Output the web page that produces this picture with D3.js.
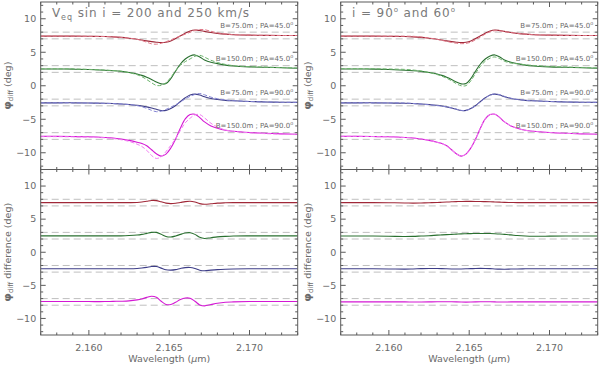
<!DOCTYPE html>
<html>
<head>
<meta charset="UTF-8" />
<title>phi diff models</title>
<script src="https://d3js.org/d3.v7.min.js"></script>
<style>
	body { margin: 0; background: #fff; }
	text { font-family: 'DejaVu Sans', sans-serif; fill: #6a6a6a; }
</style>
</head>
<body>
<div id="main"></div>
<script type="text/javascript">
	// wavelength grid (micron)
	var wavelength = [2.157, 2.158, 2.159, 2.160, 2.161, 2.1615, 2.162, 2.1625, 2.163, 2.1633, 2.1636, 2.1639, 2.1642, 2.1645, 2.1648,
		2.1651, 2.1654, 2.1657, 2.166, 2.1663, 2.1666, 2.1669, 2.1672, 2.1676, 2.168, 2.1685, 2.169, 2.170, 2.171, 2.172, 2.173];

	// reference model (solid lines), offset per baseline
	var phiB75PA45 = [7.40, 7.40, 7.40, 7.38, 7.35, 7.30, 7.22, 7.10, 6.95, 6.82, 6.70, 6.58, 6.50, 6.45, 6.50,
		6.68, 7.05, 7.45, 7.85, 8.18, 8.32, 8.25, 8.12, 7.95, 7.82, 7.70, 7.62, 7.55, 7.52, 7.50, 7.50];
	var phiB150PA45 = [2.50, 2.50, 2.48, 2.42, 2.32, 2.25, 2.15, 1.98, 1.75, 1.55, 1.28, 0.95, 0.55, 0.28, 0.32,
		1.05, 2.20, 3.25, 4.00, 4.45, 4.60, 4.30, 3.85, 3.50, 3.30, 3.08, 2.95, 2.82, 2.75, 2.68, 2.62];
	var phiB75PA90 = [-2.55, -2.55, -2.55, -2.58, -2.62, -2.66, -2.72, -2.80, -2.92, -3.02, -3.15, -3.32, -3.52, -3.70, -3.68,
		-3.40, -2.95, -2.35, -1.80, -1.38, -1.25, -1.38, -1.65, -1.90, -2.05, -2.18, -2.25, -2.35, -2.42, -2.46, -2.48];
	var phiB150PA90 = [-7.55, -7.55, -7.58, -7.62, -7.72, -7.80, -7.95, -8.15, -8.42, -8.62, -8.95, -9.55, -10.15, -10.50, -10.20,
		-9.30, -7.95, -6.30, -4.95, -4.30, -4.25, -4.75, -5.40, -6.00, -6.35, -6.65, -6.80, -6.98, -7.10, -7.18, -7.25];

	// differences 200 vs 250 km/s (lower left), plotted around the offsets
	var dvB75PA45 = [7.5, 7.5, 7.5, 7.5, 7.5, 7.5, 7.5, 7.5, 7.52, 7.58, 7.70, 7.82, 7.80, 7.62, 7.42,
		7.35, 7.40, 7.52, 7.65, 7.70, 7.58, 7.35, 7.25, 7.32, 7.42, 7.47, 7.5, 7.5, 7.5, 7.5, 7.5];
	var dvB150PA45 = [2.48, 2.48, 2.48, 2.48, 2.48, 2.48, 2.48, 2.52, 2.60, 2.70, 2.85, 3.00, 3.00, 2.72, 2.38,
		2.30, 2.45, 2.70, 2.90, 2.95, 2.70, 2.25, 2.08, 2.20, 2.32, 2.40, 2.45, 2.47, 2.47, 2.47, 2.47];
	var dvB75PA90 = [-2.5, -2.5, -2.5, -2.5, -2.5, -2.5, -2.5, -2.5, -2.45, -2.38, -2.28, -2.15, -2.15, -2.40, -2.65,
		-2.70, -2.62, -2.45, -2.32, -2.30, -2.45, -2.72, -2.80, -2.70, -2.62, -2.56, -2.52, -2.5, -2.5, -2.5, -2.5];
	var dvB150PA90 = [-7.45, -7.45, -7.45, -7.45, -7.45, -7.42, -7.40, -7.35, -7.20, -7.05, -6.82, -6.65, -6.80, -7.40, -7.88,
		-7.90, -7.55, -7.15, -6.92, -6.95, -7.40, -7.95, -8.10, -7.90, -7.70, -7.55, -7.50, -7.45, -7.45, -7.45, -7.45];

	// differences i = 90 vs 60 deg (lower right)
	var diB75PA45 = [7.5, 7.5, 7.5, 7.48, 7.45, 7.42, 7.44, 7.48, 7.52, 7.55, 7.58, 7.62, 7.65, 7.67, 7.68,
		7.68, 7.67, 7.66, 7.64, 7.62, 7.60, 7.57, 7.54, 7.52, 7.5, 7.5, 7.5, 7.5, 7.5, 7.5, 7.5];
	var diB150PA45 = [2.45, 2.45, 2.45, 2.42, 2.38, 2.40, 2.45, 2.50, 2.58, 2.62, 2.66, 2.70, 2.74, 2.78, 2.80,
		2.82, 2.83, 2.84, 2.84, 2.83, 2.80, 2.76, 2.70, 2.62, 2.52, 2.45, 2.42, 2.43, 2.45, 2.45, 2.45];
	var diB75PA90 = [-2.5, -2.5, -2.5, -2.52, -2.55, -2.52, -2.48, -2.45, -2.45, -2.47, -2.50, -2.52, -2.53, -2.52, -2.50,
		-2.48, -2.45, -2.44, -2.45, -2.48, -2.52, -2.55, -2.56, -2.54, -2.52, -2.5, -2.5, -2.5, -2.5, -2.5, -2.5];
	var diB150PA90 = [-7.5, -7.5, -7.5, -7.5, -7.5, -7.52, -7.52, -7.5, -7.48, -7.47, -7.47, -7.48, -7.5, -7.52, -7.53,
		-7.52, -7.5, -7.48, -7.47, -7.48, -7.5, -7.52, -7.52, -7.5, -7.5, -7.5, -7.5, -7.5, -7.5, -7.5, -7.5];

	var seriesOffset = [7.5, 2.5, -2.5, -7.5];
	var seriesLabel = ['B=75.0m ; PA=45.0', 'B=150.0m ; PA=45.0', 'B=75.0m ; PA=90.0', 'B=150.0m ; PA=90.0'];
	var guideLevels = [8, 7, 3, 2, -2, -3, -7, -8];
	var yTickLabels = [10, 5, 0, -5, -10];
	var xTickLabels = [2.160, 2.165, 2.170];

	var solidColor = ['#a02838', '#2a7030', '#3e3e88', '#d418d4'];
	var dashColor = ['#e07888', '#6cb46c', '#8484d4', '#f27cf2'];

	var width = 600, height = 365;
	var svg = d3.select('#main').append('svg').attr('width', width).attr('height', height);

	var cols = [{ x0: 40.7, x1: 297.7 }, { x0: 340.7, x1: 597.7 }];
	var rows = [{ y0: 2, y1: 169.5 }, { y0: 169.5, y1: 335 }];

	var refSeries = [phiB75PA45, phiB150PA45, phiB75PA90, phiB150PA90];
	var diffV = [dvB75PA45, dvB150PA45, dvB75PA90, dvB150PA90];
	var diffI = [diB75PA45, diB150PA45, diB75PA90, diB150PA90];

	// second model = reference minus the plotted difference
	function altSeries(diffs) {
		return refSeries.map((ref, k) => ref.map((v, i) => v - (diffs[k][i] - seriesOffset[k])));
	}

	function drawPanel(col, row, lines, isLower) {
		var x = d3.scaleLinear().domain([2.157, 2.173]).range([col.x0, col.x1]);
		var y = d3.scaleLinear().domain([-12.5, 12.5]).range([row.y1, row.y0]);
		var g = svg.append('g');

		// guide lines
		g.selectAll('.guide').data(guideLevels).enter().append('line')
			.attr('x1', col.x0).attr('x2', col.x1)
			.attr('y1', d => y(d)).attr('y2', d => y(d))
			.attr('stroke', '#b8b8b8').attr('stroke-width', 0.9).attr('stroke-dasharray', '7,4');

		var line = d3.line().x((d, i) => x(wavelength[i])).y(d => y(d)).curve(d3.curveCatmullRom.alpha(0.5));
		lines.forEach(function (l) {
			g.append('path').attr('d', line(l.values)).attr('fill', 'none')
				.attr('stroke', l.color).attr('stroke-width', l.w || 1)
				.attr('stroke-dasharray', l.dash ? '4,2' : null);
		});

		// frame
		g.append('rect').attr('x', col.x0).attr('y', row.y0).attr('width', col.x1 - col.x0).attr('height', row.y1 - row.y0)
			.attr('fill', 'none').attr('stroke', '#5a5a5a').attr('stroke-width', 1);

		// x ticks (inward, top and bottom)
		var xt = d3.range(2157, 2174).map(d => d / 1000);
		xt.forEach(function (t) {
			var major = Math.round(t * 1000) % 5 === 0;
			var len = major ? 5 : 2.5;
			g.append('line').attr('x1', x(t)).attr('x2', x(t)).attr('y1', row.y1).attr('y2', row.y1 - len).attr('stroke', '#5a5a5a');
			g.append('line').attr('x1', x(t)).attr('x2', x(t)).attr('y1', row.y0).attr('y2', row.y0 + len).attr('stroke', '#5a5a5a');
		});
		// y ticks (inward, left and right)
		d3.range(-12, 13).forEach(function (t) {
			var len = t % 5 === 0 ? 5 : 2.5;
			g.append('line').attr('x1', col.x0).attr('x2', col.x0 + len).attr('y1', y(t)).attr('y2', y(t)).attr('stroke', '#5a5a5a');
			g.append('line').attr('x1', col.x1).attr('x2', col.x1 - len).attr('y1', y(t)).attr('y2', y(t)).attr('stroke', '#5a5a5a');
		});
		g.selectAll('.ylab').data(yTickLabels).enter().append('text')
			.attr('x', col.x0 - 4.5).attr('y', d => y(d) + 3.3)
			.attr('text-anchor', 'end').attr('font-size', '9.5px')
			.text(d => d < 0 ? '\u2212' + Math.abs(d) : d);

		if (isLower) {
			g.selectAll('.xlab').data(xTickLabels).enter().append('text')
				.attr('x', d => x(d)).attr('y', 350.5).attr('text-anchor', 'middle').attr('font-size', '9.5px')
				.text(d => d3.format('.3f')(d));
			var xt2 = g.append('text').attr('x', (col.x0 + col.x1) / 2).attr('y', 361.5)
				.attr('text-anchor', 'middle').attr('font-size', '9.5px');
			xt2.append('tspan').text('Wavelength (');
			xt2.append('tspan').attr('font-style', 'italic').text('\u03bc');
			xt2.append('tspan').text('m)');
		} else {
			// baseline labels
			seriesLabel.forEach(function (s, k) {
				var t = g.append('text').attr('x', col.x1 - 4.5).attr('y', y(seriesOffset[k]) - 8)
					.attr('text-anchor', 'end').attr('font-size', '7px');
				t.append('tspan').text(s);
				t.append('tspan').attr('font-size', '5px').attr('dy', -3).text('o');
			});
		}

		// y title
		var cy = (row.y0 + row.y1) / 2;
		var yt = g.append('text').attr('transform', 'translate(' + (col.x0 - 30) + ',' + cy + ') rotate(-90)')
			.attr('text-anchor', 'middle').attr('font-size', '9.5px');
		yt.append('tspan').attr('font-weight', 'bold').attr('font-size', '11px').text('\u03c6');
		yt.append('tspan').attr('font-size', '7px').attr('dy', 2.5).text('diff');
		yt.append('tspan').attr('dy', -2.5).text(isLower ? ' difference (deg)' : ' (deg)');
	}

	var altV = altSeries(diffV);
	var altI = altSeries(diffI);

	function upperLines(alt) {
		var out = [];
		refSeries.forEach(function (ref, k) {
			out.push({ values: ref, color: solidColor[k], w: 1.1 });
			out.push({ values: alt[k], color: dashColor[k], dash: true, w: 1 });
		});
		return out;
	}
	function lowerLines(diffs) {
		return diffs.map((d, k) => ({ values: d, color: solidColor[k], w: 1.1 }));
	}

	drawPanel(cols[0], rows[0], upperLines(altV), false);
	drawPanel(cols[0], rows[1], lowerLines(diffV), true);
	drawPanel(cols[1], rows[0], upperLines(altI), false);
	drawPanel(cols[1], rows[1], lowerLines(diffI), true);

	// panel titles
	var t1 = svg.append('text').attr('x', 52).attr('y', 17).attr('font-size', '12px').attr('letter-spacing', '0.9px')
		.style('fill', '#7a7a7a');
	t1.append('tspan').text('V');
	t1.append('tspan').attr('font-size', '8px').attr('dy', 3).text('eq');
	t1.append('tspan').attr('dy', -3).text(' sin i = 200 and 250 km/s');

	var t2 = svg.append('text').attr('x', 352).attr('y', 17).attr('font-size', '12px').attr('letter-spacing', '0.9px')
		.style('fill', '#7a7a7a');
	t2.append('tspan').text('i = 90');
	t2.append('tspan').attr('font-size', '7px').attr('dy', -5).text('o');
	t2.append('tspan').attr('dy', 5).text(' and 60');
	t2.append('tspan').attr('font-size', '7px').attr('dy', -5).text('o');
</script>
</body>
</html>
